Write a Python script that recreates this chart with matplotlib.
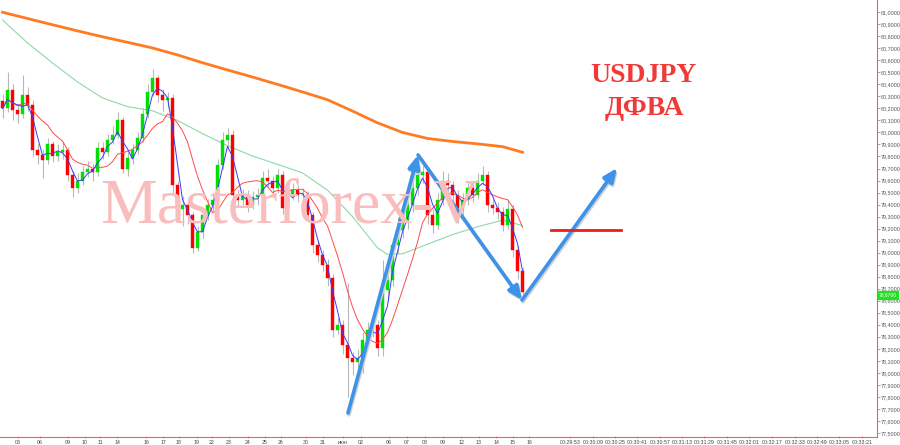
import numpy as np
import pandas as pd
import matplotlib
matplotlib.use("Agg")
import matplotlib.pyplot as plt

plt.rcParams["font.family"] = ["Liberation Sans", "DejaVu Sans"]

# ---------------- data ----------------
opens = [80.26, 80.20, 80.35, 80.19, 80.15, 80.31, 80.23, 79.85, 79.81, 79.77,
         79.90, 79.80, 79.84, 79.85, 79.65, 79.54, 79.60, 79.67, 79.70, 79.67,
         79.87, 79.84, 79.94, 79.98, 80.10, 79.70, 79.79, 79.85, 79.95, 80.15,
         80.34, 80.45, 80.31, 80.27, 80.29, 79.56, 79.36, 79.40, 79.31, 79.04,
         79.17, 79.31, 79.40, 79.44, 79.73, 79.94, 79.98, 79.48, 79.44, 79.48,
         79.40, 79.46, 79.48, 79.62, 79.60, 79.54, 79.65, 79.37, 79.48, 79.52,
         79.48, 79.48, 79.31, 79.06, 78.98, 78.90, 78.79, 78.36, 78.40, 78.23,
         78.12, 78.09, 78.12, 78.27, 78.36, 78.40, 78.21, 78.69, 78.77, 79.06,
         79.19, 79.27, 79.40, 79.54, 79.65, 79.67, 79.31, 79.23, 79.44, 79.60,
         79.56, 79.48, 79.36, 79.44, 79.54, 79.48, 79.60, 79.65, 79.40, 79.37,
         79.34, 79.23, 79.36, 79.02, 78.85]
closes = [80.20, 80.35, 80.19, 80.15, 80.31, 80.23, 79.85, 79.81, 79.77, 79.90,
          79.80, 79.84, 79.85, 79.65, 79.54, 79.60, 79.67, 79.70, 79.67, 79.87,
          79.84, 79.94, 79.98, 80.10, 79.70, 79.79, 79.85, 79.95, 80.15, 80.34,
          80.45, 80.31, 80.27, 80.29, 79.56, 79.36, 79.40, 79.31, 79.04, 79.17,
          79.31, 79.40, 79.44, 79.73, 79.94, 79.98, 79.48, 79.44, 79.48, 79.40,
          79.46, 79.48, 79.62, 79.60, 79.54, 79.65, 79.37, 79.48, 79.52, 79.48,
          79.48, 79.31, 79.06, 78.98, 78.90, 78.79, 78.36, 78.40, 78.23, 78.12,
          78.09, 78.12, 78.27, 78.36, 78.40, 78.21, 78.69, 78.77, 79.06, 79.19,
          79.27, 79.40, 79.54, 79.65, 79.67, 79.31, 79.23, 79.44, 79.60, 79.56,
          79.48, 79.36, 79.44, 79.54, 79.48, 79.60, 79.65, 79.40, 79.37, 79.34,
          79.23, 79.36, 79.02, 78.85, 78.67]
highs = [80.32, 80.50, 80.40, 80.24, 80.48, 80.38, 80.27, 79.90, 79.86, 79.95,
         79.93, 79.90, 79.92, 79.88, 79.68, 79.66, 79.72, 79.76, 79.74, 79.92,
         79.92, 79.99, 80.05, 80.17, 80.13, 79.84, 79.90, 80.00, 80.20, 80.40,
         80.53, 80.48, 80.36, 80.34, 80.32, 79.60, 79.47, 79.45, 79.34, 79.22,
         79.36, 79.45, 79.50, 79.78, 80.00, 80.04, 80.02, 79.52, 79.53, 79.52,
         79.51, 79.54, 79.68, 79.70, 79.64, 79.70, 79.68, 79.52, 79.58, 79.56,
         79.54, 79.51, 79.34, 79.10, 79.02, 78.95, 78.82, 78.46, 78.44, 78.75,
         78.17, 78.20, 78.34, 78.42, 78.48, 78.44, 78.94, 78.84, 79.12, 79.30,
         79.34, 79.46, 79.60, 79.72, 79.72, 79.70, 79.36, 79.50, 79.68, 79.66,
         79.60, 79.52, 79.50, 79.60, 79.58, 79.66, 79.72, 79.68, 79.45, 79.42,
         79.38, 79.44, 79.40, 79.06, 78.88]
lows = [80.12, 80.17, 80.10, 80.08, 80.12, 80.18, 79.80, 79.74, 79.62, 79.74,
        79.75, 79.76, 79.78, 79.60, 79.46, 79.50, 79.56, 79.63, 79.60, 79.64,
        79.78, 79.80, 79.90, 79.95, 79.66, 79.64, 79.74, 79.82, 79.92, 80.12,
        80.30, 80.25, 80.18, 80.20, 79.50, 79.30, 79.22, 79.24, 79.00, 79.01,
        79.12, 79.27, 79.35, 79.40, 79.70, 79.88, 79.42, 79.38, 79.40, 79.34,
        79.36, 79.40, 79.45, 79.55, 79.49, 79.50, 79.32, 79.33, 79.44, 79.42,
        79.40, 79.26, 79.00, 78.92, 78.85, 78.72, 78.30, 78.32, 78.16, 77.80,
        77.98, 78.02, 78.00, 78.22, 78.30, 78.14, 78.14, 78.60, 78.72, 79.00,
        79.12, 79.20, 79.34, 79.48, 79.58, 79.24, 79.16, 79.20, 79.40, 79.50,
        79.42, 79.25, 79.30, 79.40, 79.42, 79.45, 79.56, 79.34, 79.32, 79.28,
        79.18, 79.20, 78.96, 78.78, 78.62]

ma_long_idx = [0, 5, 10, 15, 20, 25, 30, 35, 40, 45, 50, 55, 60, 65, 70, 75,
               80, 85, 90, 95, 100, 104]
ma_long_val = [81.000, 80.948, 80.896, 80.845, 80.796, 80.750, 80.703, 80.645,
               80.580, 80.520, 80.461, 80.400, 80.337, 80.272, 80.178, 80.080,
               80.000, 79.950, 79.925, 79.905, 79.882, 79.835]
ma_mid_idx = [0, 5, 10, 15, 20, 25, 30, 35, 40, 45, 50, 55, 60, 65, 70, 75,
              77, 80, 85, 90, 95, 100, 104]
ma_mid_val = [80.936, 80.745, 80.578, 80.420, 80.287, 80.215, 80.180, 80.100,
              79.990, 79.890, 79.804, 79.735, 79.663, 79.520, 79.300, 79.040,
              78.985, 78.990, 79.070, 79.150, 79.215, 79.270, 79.225]

pattern_idx = [69.1, 83.1, 103.9, 122.9]
pattern_price = [77.666, 79.813, 78.606, 79.704]
target_idx = [109.7, 123.7]
target_price = 79.188

date_labels = ["03", "06", "09", "10", "11", "14", "16", "17", "18", "19", "22",
               "23", "24", "25", "26", "30", "31", "июн", "02", "06", "07", "08",
               "09", "12", "13", "14", "15", "16"]
date_pos = [3.1, 7.5, 13.1, 16.5, 19.5, 22.9, 28.7, 32.1, 35.3, 38.9, 41.9,
            45.3, 49.1, 52.5, 55.7, 60.7, 64.1, 68.1, 71.7, 77.3, 80.9, 84.5,
            88.1, 91.7, 95.3, 98.7, 102.1, 105.3]
time_labels = ["00:29:53", "00:30:09", "00:30:25", "00:30:41", "00:30:57",
               "00:31:13", "00:31:29", "00:31:45", "00:32:01", "00:32:17",
               "00:32:33", "00:32:49", "00:33:05", "00:33:21"]
time_pos = [113.5, 118.1, 122.5, 126.9, 131.5, 135.9, 140.3, 144.9, 149.3,
            153.9, 158.5, 162.9, 167.3, 171.9]

y_ticks = [round(77.5 + 0.1 * k, 1) for k in range(36)]

# ---------------- figure ----------------
W, H = 900, 445
fig = plt.figure(figsize=(W / 100, H / 100), dpi=100)
ax = fig.add_axes([0, 8 / H, 877 / W, 437 / H])
ax.set_xlim(-0.5, 174.9)
ax.set_ylim(77.466, 81.102)

o = np.array(opens); c = np.array(closes)
h = np.array(highs); l = np.array(lows)
x = np.arange(len(c))

# watermark
fig.text(290 / W, 1 - 222 / H, "Masterforex-V", ha="center", va="baseline",
         family="Liberation Serif", fontsize=46, color="#f9bdbd", zorder=0)

# moving averages
ax.plot(ma_long_idx, ma_long_val, color="#ff7b22", lw=2.0, zorder=2,
        solid_joinstyle="round")
ax.plot(ma_mid_idx, ma_mid_val, color="#8fd8a6", lw=0.8, zorder=2)

# wicks and bodies
ax.vlines(x, l, h, color="#b8b8b8", lw=0.8, zorder=3)
up = c >= o
bw = 0.5
ax.bar(x[up], (c - o)[up], bottom=o[up], width=bw, color="#00e000",
       edgecolor="#00e000", lw=0.3, zorder=4)
ax.bar(x[~up], (o - c)[~up], bottom=c[~up], width=bw, color="#ff0000",
       edgecolor="#ff0000", lw=0.3, zorder=4)

s = pd.Series(c)
red_ma = s.rolling(9, min_periods=1).mean()
blue_ma = s.rolling(3, min_periods=1).mean()
ax.plot(x, red_ma, color="#ff4a4a", lw=0.7, zorder=5)
ax.plot(x, blue_ma, color="#3a3aff", lw=0.7, zorder=5)

# pattern arrows
for k in range(len(pattern_idx) - 1):
    ax.annotate("", xy=(pattern_idx[k + 1] + 0.2, pattern_price[k + 1] - 0.015),
                xytext=(pattern_idx[k] + 0.2, pattern_price[k] - 0.015),
                arrowprops=dict(arrowstyle="-|>,head_length=0.8,head_width=0.35",
                                color="#cfcfcf", lw=2.6, shrinkA=0, shrinkB=0),
                zorder=6)
    ax.annotate("", xy=(pattern_idx[k + 1], pattern_price[k + 1]),
                xytext=(pattern_idx[k], pattern_price[k]),
                arrowprops=dict(arrowstyle="-|>,head_length=0.8,head_width=0.35",
                                color="#3d92ea", lw=2.6, shrinkA=0, shrinkB=0),
                zorder=7)
ax.plot(target_idx, [target_price, target_price], color="#ee1c1c", lw=2, zorder=7)

# titles
fig.text(643 / W, 1 - 82 / H, "USDJPY", ha="center", va="baseline",
         family="Liberation Serif", fontweight="bold", fontsize=20, color="#f03a3a")
fig.text(644 / W, 1 - 115 / H, "ДФВА", ha="center", va="baseline",
         family="Liberation Serif", fontweight="bold", fontsize=20, color="#f03a3a")

# axes styling
for sp in ["top", "left"]:
    ax.spines[sp].set_visible(False)
ax.spines["right"].set_color("#f06060")
ax.spines["bottom"].set_color("#f06060")
ax.spines["right"].set_linewidth(0.8)
ax.spines["bottom"].set_linewidth(0.8)
ax.yaxis.tick_right()
ax.set_yticks(y_ticks)
ax.set_yticklabels([f"{v:.4f}".replace(".", ",") for v in y_ticks])
ax.tick_params(axis="y", length=2, width=0.5, color="#888888", labelsize=3.9,
               labelcolor="#555555", pad=0.8)
ax.set_xticks(date_pos + time_pos)
ax.set_xticklabels(date_labels + time_labels)
ax.tick_params(axis="x", length=2, width=0.6, color="#f06060", labelsize=3.8,
               labelcolor="#444444", pad=0.8, direction="inout")

# current price marker
fig.text(879 / W, 1 - 295 / H, f"{closes[-1]:.4f}".replace(".", ","), ha="left",
         va="center", fontsize=3.6, color="white",
         bbox=dict(boxstyle="square,pad=0.25", fc="#22e022", ec="#22e022"))

fig.savefig("out.png", dpi=100)
